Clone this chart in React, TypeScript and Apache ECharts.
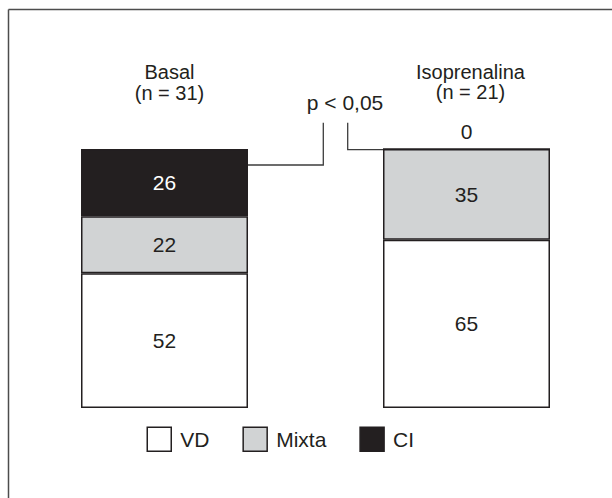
import React, { useEffect, useRef } from "react";
import * as echarts from "echarts";

const categories = ["Basal", "Isoprenalina"];
const groupSizes = [31, 21];
const vdValues = [52, 65];
const mixtaValues = [22, 35];
const ciValues = [26, 0];
const seriesNames = ["VD", "Mixta", "CI"];
const pValueLabel = "p < 0,05";

const INK = "#231f20";
const GRAY = "#d1d3d4";
const FONT = "'Liberation Sans', Arial, Helvetica, sans-serif";
const BAR_W = 167;

export default function App() {
  const ref = useRef<HTMLDivElement>(null);

  useEffect(() => {
    if (!ref.current) return;
    const chart = echarts.init(ref.current, undefined, { renderer: "svg" });

    const labelBase = {
      show: true,
      position: "inside" as const,
      fontSize: 21,
      fontFamily: FONT,
      color: INK,
    };
    const itemBase = { borderColor: INK, borderWidth: 1.5 };

    chart.setOption({
      animation: false,
      backgroundColor: "#ffffff",
      grid: { left: 164.5, right: 145.5, top: 149, bottom: 90 },
      xAxis: {
        type: "category",
        data: categories,
        boundaryGap: false,
        show: false,
      },
      yAxis: { type: "value", min: 0, max: 100, show: false },
      legend: {
        data: seriesNames,
        left: 146.5,
        top: 426.5,
        padding: 0,
        itemWidth: 24,
        itemHeight: 24,
        itemGap: 33,
        icon: "rect",
        itemStyle: { borderColor: INK, borderWidth: 1.5 },
        textStyle: {
          fontSize: 21,
          fontFamily: FONT,
          color: INK,
          padding: [0, 0, 0, 4],
        },
      },
      series: [
        {
          name: seriesNames[0],
          type: "bar",
          stack: "total",
          barWidth: BAR_W,
          data: vdValues,
          itemStyle: { ...itemBase, color: "#ffffff" },
          label: labelBase,
        },
        {
          name: seriesNames[1],
          type: "bar",
          stack: "total",
          barWidth: BAR_W,
          data: mixtaValues,
          itemStyle: { ...itemBase, color: GRAY },
          label: labelBase,
        },
        {
          name: seriesNames[2],
          type: "bar",
          stack: "total",
          barWidth: BAR_W,
          data: ciValues.map((v) =>
            v === 0
              ? {
                  value: v,
                  label: { position: "top", color: INK, distance: 6 },
                }
              : v
          ),
          itemStyle: { ...itemBase, color: INK },
          label: { ...labelBase, color: "#ffffff" },
        },
      ],
    });

    const x0 = chart.convertToPixel({ xAxisIndex: 0 }, categories[0]) as number;
    const x1 = chart.convertToPixel({ xAxisIndex: 0 }, categories[1]) as number;
    const yTop = chart.convertToPixel({ yAxisIndex: 0 }, 100) as number;
    const leftBarRight = x0 + BAR_W / 2;
    const rightBarLeft = x1 - BAR_W / 2;

    const text = (t: string, x: number, y: number, size: number) => ({
      type: "text",
      x,
      y,
      style: {
        text: t,
        fontSize: size,
        lineHeight: 20.5,
        fontFamily: FONT,
        fill: INK,
        align: "center",
        verticalAlign: "middle",
      },
    });

    const lineStroke = { stroke: "#3d3d3d", lineWidth: 1.3, fill: "none" };

    chart.setOption({
      graphic: [
        {
          type: "line",
          shape: { x1: 8.5, y1: 9.5, x2: 612, y2: 9.5 },
          style: { stroke: "#4d4d4d", lineWidth: 1.5 },
        },
        {
          type: "line",
          shape: { x1: 8.5, y1: 9.5, x2: 8.5, y2: 498 },
          style: { stroke: "#4d4d4d", lineWidth: 1.5 },
        },
        text(`${categories[0]}\n(n = ${groupSizes[0]})`, x0 + 5, 82.5, 20),
        text(`${categories[1]}\n(n = ${groupSizes[1]})`, x1 + 4, 82, 20),
        text(pValueLabel, 345, 102, 21),
        {
          type: "polyline",
          shape: {
            points: [
              [leftBarRight, yTop + 16],
              [323.3, yTop + 16],
              [323.3, 122.7],
            ],
          },
          style: lineStroke,
        },
        {
          type: "polyline",
          shape: {
            points: [
              [347.7, 122.7],
              [347.7, yTop + 0.7],
              [rightBarLeft, yTop + 0.7],
            ],
          },
          style: lineStroke,
        },
      ],
    });

    return () => chart.dispose();
  }, []);

  return (
    <div
      ref={ref}
      style={{ position: "absolute", left: 0, top: 0, width: 612, height: 498 }}
    />
  );
}
